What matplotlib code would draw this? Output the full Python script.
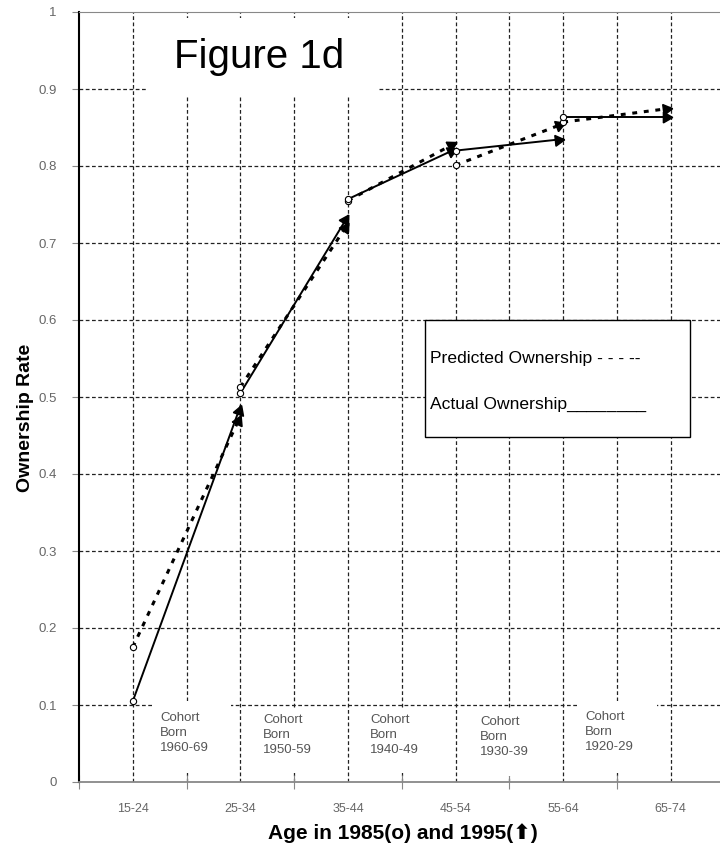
import math
import matplotlib
matplotlib.use('Agg')
import matplotlib.pyplot as plt
from matplotlib.patches import Rectangle

# Data (ownership rate per cohort, 1985 -> 1995)
age_groups = ['15-24', '25-34', '35-44', '45-54', '55-64', '65-74']
cohorts = ['1960-69', '1950-59', '1940-49', '1930-39', '1920-29']
actual_1985 = [0.105, 0.505, 0.757, 0.820, 0.864]
actual_1995 = [0.488, 0.735, 0.822, 0.835, 0.864]
pred_1985 = [0.175, 0.513, 0.755, 0.801, 0.857]
pred_1995 = [0.475, 0.725, 0.830, 0.855, 0.875]
y_ticks = [0, 0.1, 0.2, 0.3, 0.4, 0.5, 0.6, 0.7, 0.8, 0.9, 1]

plt.rcParams['font.family'] = ['Liberation Sans', 'DejaVu Sans']

W, H = 720, 856
AX_L, AX_B = 79, 782      # pixel position of data origin
STEP_X, SPAN_Y = 107.6, 770

fig = plt.figure(figsize=(W / 100, H / 100), dpi=100)
ax = fig.add_axes([AX_L / W, (H - AX_B) / H, 6 * STEP_X / W, SPAN_Y / H])
ax.set_xlim(0, 6)
ax.set_ylim(0, 1)


def px(x, y):
    """pixel position in the picture -> data coords"""
    return (x - AX_L) / STEP_X, (AX_B - y) / SPAN_Y


# grid
grid_kw = dict(color='#222222', lw=0.9, dashes=(3, 2), zorder=1)
for v in y_ticks[1:-1]:
    ax.axhline(v, **grid_kw)
for k in range(1, 12):
    ax.axvline(k * 0.5, **grid_kw)

# spines
ax.spines['right'].set_visible(False)
ax.spines['top'].set_color('#888888')
ax.spines['bottom'].set_color('#888888')
ax.spines['bottom'].set_linewidth(1.3)
ax.spines['left'].set_color('black')
ax.spines['left'].set_linewidth(1.5)

# ticks
ax.set_yticks(y_ticks)
ax.set_yticklabels(['0' if v == 0 else '1' if v == 1 else f'{v:.1f}' for v in y_ticks])
ax.tick_params(axis='y', direction='out', length=5, width=0.8, color='#888888',
               labelcolor='#666666', labelsize=9.5, pad=11)
ax.set_xticks([i + 0.5 for i in range(len(age_groups))])
ax.set_xticklabels(age_groups)
ax.set_xticks(range(0, 7), minor=True)
ax.tick_params(axis='x', which='major', length=0, labelcolor='#666666',
               labelsize=9, pad=15)
ax.tick_params(axis='x', which='minor', direction='inout', length=10,
               width=0.8, color='#888888')

# white boxes that hide the grid behind the notes
boxes = [(148, 18, 378, 97),
         (154, 701, 231, 773),
         (258, 708, 322, 773),
         (364, 708, 430, 773),
         (474, 710, 537, 776),
         (578, 701, 657, 773)]
for x0, y0, x1, y1 in boxes:
    a = px(x0, y1)
    b = px(x1, y0)
    ax.add_patch(Rectangle(a, b[0] - a[0], b[1] - a[1], fc='white', ec='none',
                           zorder=2))

# legend box
a = px(425, 437)
b = px(690, 320)
ax.add_patch(Rectangle(a, b[0] - a[0], b[1] - a[1], fc='white', ec='black',
                       lw=1.0, zorder=2))
ax.text(*px(430, 358), 'Predicted Ownership - - - --', fontsize=12.6,
        va='center', ha='left', zorder=5)
ax.text(*px(430, 404), 'Actual Ownership________', fontsize=12.6,
        va='center', ha='left', zorder=5)

ax.text(*px(174, 57), 'Figure 1d', fontsize=29, va='center', ha='left', zorder=5)

# cohort notes
note_pos = [(160, 712), (263, 714), (370, 714), (480, 716), (585, 711)]
for (x, y), c in zip(note_pos, cohorts):
    ax.text(*px(x, y), f'Cohort\nBorn\n{c}', fontsize=9.5, color='#555555',
            va='top', ha='left', linespacing=1.35, zorder=5)


def arrow_head(x0, y0, x1, y1, ms=9):
    """filled triangle at the 1995 end, pointing along the segment"""
    p0 = ax.transData.transform((x0, y0))
    p1 = ax.transData.transform((x1, y1))
    dx, dy = p1[0] - p0[0], p1[1] - p0[1]
    ang = math.degrees(math.atan2(dy, dx))
    d = math.hypot(dx, dy)
    back = ms / 2 * 100 / 72 * 0.8
    c = (p1[0] - dx / d * back, p1[1] - dy / d * back)
    cx, cy = ax.transData.inverted().transform(c)
    ax.plot(cx, cy, marker=(3, 0, ang - 90), ms=ms, color='black', mec='black',
            ls='none', zorder=4)


for i in range(len(cohorts)):
    x0, x1 = i + 0.5, i + 1.5
    ax.plot([x0, x1], [pred_1985[i], pred_1995[i]], color='black', lw=2.2,
            dashes=(1.6, 2.2), zorder=3)
    ax.plot([x0, x1], [actual_1985[i], actual_1995[i]], color='black', lw=1.4,
            zorder=3)
    arrow_head(x0, pred_1985[i], x1, pred_1995[i])
    arrow_head(x0, actual_1985[i], x1, actual_1995[i])
    ax.plot([x0, x0], [pred_1985[i], actual_1985[i]], ls='none', marker='o',
            ms=4.5, mfc='white', mec='black', mew=0.8, zorder=4)

fig.text(403 / W, 1 - 833 / H, 'Age in 1985(o) and 1995(\u2B06)', fontsize=15,
         fontweight='bold', ha='center', va='center')
fig.text(26 / W, 1 - 418 / H, 'Ownership Rate', fontsize=14, fontweight='bold',
         rotation=90, ha='center', va='center')

fig.savefig('out.png', dpi=100)
